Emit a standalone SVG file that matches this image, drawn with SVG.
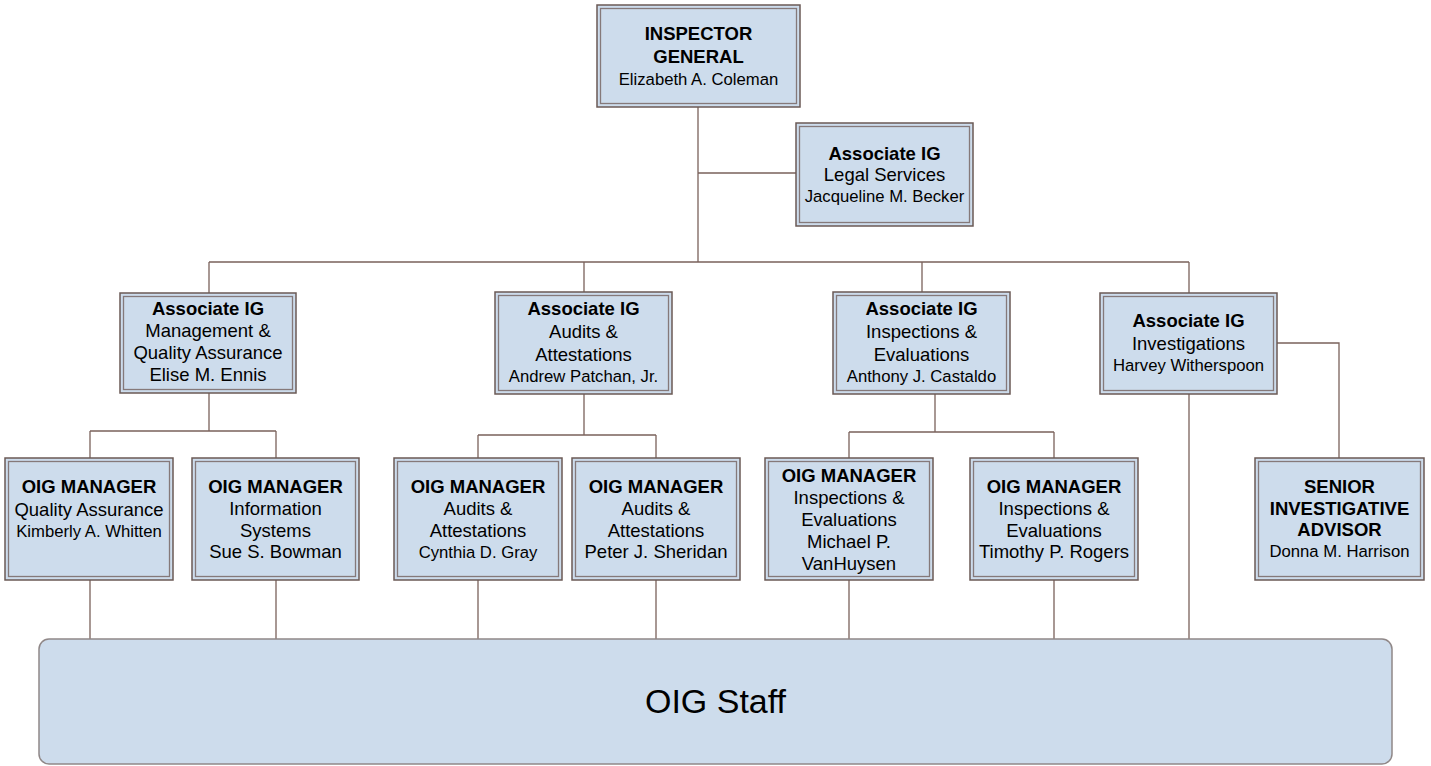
<svg xmlns="http://www.w3.org/2000/svg" width="1431" height="766" viewBox="0 0 1431 766">
<style>
.o{fill:#cddcec;stroke:#6b5a55;stroke-width:1.5}
.i{fill:#cddcec;stroke:#85797a;stroke-width:1.3}
.c{fill:none;stroke:#7a625b;stroke-width:1.3}
text{font-family:"Liberation Sans",Arial,sans-serif;fill:#000;text-anchor:middle}
.t{font-size:18.5px;font-weight:bold}
.d{font-size:18.5px}
.n{font-size:16.7px}
.s{font-size:34px}
</style>
<rect width="1431" height="766" fill="#fff"/>
<g id="connectors">
<path class="c" d="M698 107V262M698 173H796M209 262H1189M209 262V293M584 262V292M922 262V292M1189 262V293"/>
<path class="c" d="M209 393V431M90 431H276M90 431V458M276 431V458"/>
<path class="c" d="M584 394V435M478 435H656M478 435V458M656 435V458"/>
<path class="c" d="M935 394V432M849 432H1054M849 432V458M1054 432V458"/>
<path class="c" d="M1277 343H1339V458"/>
<path class="c" d="M90 580V639M276 580V639M478 580V639M656 580V639M849 580V639M1054 580V639M1189 394V639"/>
</g>
<g id="inspector-general">
<rect class="o" x="597" y="5" width="203" height="102"/><rect class="i" x="600.5" y="8.5" width="196" height="95"/>
<text class="t" x="698.5" y="40">INSPECTOR</text><text class="t" x="698.5" y="63">GENERAL</text><text class="n" x="698.5" y="85">Elizabeth A. Coleman</text>
</g>
<g id="legal">
<rect class="o" x="796" y="123" width="177" height="103"/><rect class="i" x="799.5" y="126.5" width="170" height="96"/>
<text class="t" x="884.5" y="159.5">Associate IG</text><text class="d" x="884.5" y="181">Legal Services</text><text class="n" x="884.5" y="202">Jacqueline M. Becker</text>
</g>
<g id="mgmt">
<rect class="o" x="120" y="293" width="176" height="100"/><rect class="i" x="123.5" y="296.5" width="169" height="93"/>
<text class="t" x="208" y="315">Associate IG</text><text class="d" x="208" y="337">Management &amp;</text><text class="d" x="208" y="359">Quality Assurance</text><text class="d" x="208" y="380.5">Elise M. Ennis</text>
</g>
<g id="audits">
<rect class="o" x="495" y="292" width="177" height="102"/><rect class="i" x="498.5" y="295.5" width="170" height="95"/>
<text class="t" x="583.5" y="315">Associate IG</text><text class="d" x="583.5" y="338">Audits &amp;</text><text class="d" x="583.5" y="360.5">Attestations</text><text class="n" x="583.5" y="381.5">Andrew Patchan, Jr.</text>
</g>
<g id="inspections">
<rect class="o" x="833" y="292" width="177" height="102"/><rect class="i" x="836.5" y="295.5" width="170" height="95"/>
<text class="t" x="921.5" y="315">Associate IG</text><text class="d" x="921.5" y="338">Inspections &amp;</text><text class="d" x="921.5" y="360.5">Evaluations</text><text class="n" x="921.5" y="381.5">Anthony J. Castaldo</text>
</g>
<g id="investigations">
<rect class="o" x="1100" y="293" width="177" height="101"/><rect class="i" x="1103.5" y="296.5" width="170" height="94"/>
<text class="t" x="1188.5" y="327">Associate IG</text><text class="d" x="1188.5" y="349.5">Investigations</text><text class="n" x="1188.5" y="370.5">Harvey Witherspoon</text>
</g>
<g id="mgr-qa">
<rect class="o" x="5" y="458" width="168" height="122"/><rect class="i" x="8.5" y="461.5" width="161" height="115"/>
<text class="t" x="89" y="493">OIG MANAGER</text><text class="d" x="89" y="515.5">Quality Assurance</text><text class="n" x="89" y="536.5">Kimberly A. Whitten</text>
</g>
<g id="mgr-is">
<rect class="o" x="192" y="458" width="167" height="122"/><rect class="i" x="195.5" y="461.5" width="160" height="115"/>
<text class="t" x="275.5" y="493">OIG MANAGER</text><text class="d" x="275.5" y="515">Information</text><text class="d" x="275.5" y="537">Systems</text><text class="d" x="275.5" y="558">Sue S. Bowman</text>
</g>
<g id="mgr-cg">
<rect class="o" x="394" y="458" width="168" height="122"/><rect class="i" x="397.5" y="461.5" width="161" height="115"/>
<text class="t" x="478" y="493">OIG MANAGER</text><text class="d" x="478" y="515">Audits &amp;</text><text class="d" x="478" y="537">Attestations</text><text class="n" x="478" y="557.5">Cynthia D. Gray</text>
</g>
<g id="mgr-ps">
<rect class="o" x="572" y="458" width="168" height="122"/><rect class="i" x="575.5" y="461.5" width="161" height="115"/>
<text class="t" x="656" y="493">OIG MANAGER</text><text class="d" x="656" y="515">Audits &amp;</text><text class="d" x="656" y="537">Attestations</text><text class="d" x="656" y="558">Peter J. Sheridan</text>
</g>
<g id="mgr-mv">
<rect class="o" x="765" y="458" width="168" height="122"/><rect class="i" x="768.5" y="461.5" width="161" height="115"/>
<text class="t" x="849" y="482">OIG MANAGER</text><text class="d" x="849" y="504">Inspections &amp;</text><text class="d" x="849" y="526">Evaluations</text><text class="d" x="849" y="548">Michael P.</text><text class="d" x="849" y="569.5">VanHuysen</text>
</g>
<g id="mgr-tr">
<rect class="o" x="970" y="458" width="168" height="122"/><rect class="i" x="973.5" y="461.5" width="161" height="115"/>
<text class="t" x="1054" y="493">OIG MANAGER</text><text class="d" x="1054" y="515">Inspections &amp;</text><text class="d" x="1054" y="537">Evaluations</text><text class="d" x="1054" y="558">Timothy P. Rogers</text>
</g>
<g id="senior">
<rect class="o" x="1255" y="458" width="169" height="122"/><rect class="i" x="1258.5" y="461.5" width="162" height="115"/>
<text class="t" x="1339.5" y="492.7">SENIOR</text><text class="t" x="1339.5" y="514.5">INVESTIGATIVE</text><text class="t" x="1339.5" y="536">ADVISOR</text><text class="n" x="1339.5" y="557">Donna M. Harrison</text>
</g>
<g id="staff">
<rect x="39" y="639" width="1353" height="125" rx="10" fill="#cddcec" stroke="#908888" stroke-width="1.5"/>
<text class="s" x="715.5" y="713">OIG Staff</text>
</g>
</svg>
